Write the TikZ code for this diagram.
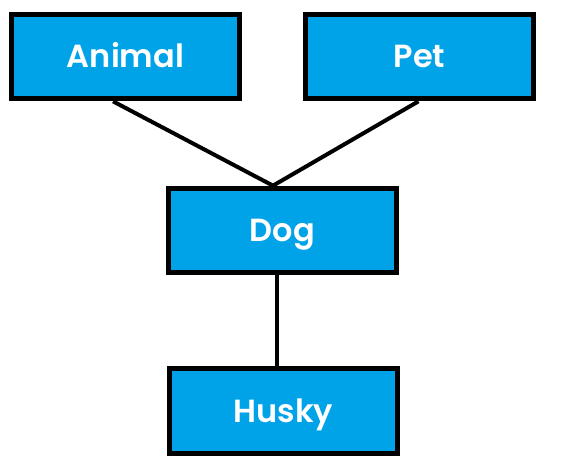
\documentclass[tikz,border=0pt]{standalone}
\usepackage{fontspec}
\setmainfont{Poppins}[BoldFont={* SemiBold}]
\usepackage{tikz}
\usetikzlibrary{positioning}
\usetikzlibrary{backgrounds}
\usetikzlibrary{calc}
\definecolor{boxblue}{HTML}{00A2E8}

\begin{document}
\begin{tikzpicture}[
            x = 0.75pt, y = -0.75pt, % one unit = one pixel
            link/.style = {line width = 3pt} % connector style
        ]

        \tikzstyle{every node}=[
            draw = black,
            line width = 3.75pt,
            fill = boxblue,
            text = white,
            font = \fontsize{24}{28}\selectfont\bfseries,
            text height = 20pt,
            text depth = 3.2pt,
            minimum width = 171pt,
            minimum height = 63.5pt
        ]

        \useasboundingbox (0,0) rectangle (576,470);

	% top level
        \node (Animal) at (125.5,56.5) {Animal};
        \node (Pet) [right=45.75pt of Animal] {Pet};

        % middle and bottom
        \node (Dog) at (282.5,230.5) {Dog};
        \node (Husky) [below=68.25pt of Dog, xshift=0.75pt] {Husky};

          \begin{scope}[on background layer]
          \coordinate (top) at ($(Dog.north)+(-9.5,0)$);
          \draw[link] ($(Animal.south)+(-12.5,0)$) -- (top);
          \draw[link] ($(Pet.south)+(-1,0)$) -- (top);
          \draw[link] ($(Dog.south)+(-5.5,0)$) -- ($(Husky.north)+(-6.5,0)$);
          \end{scope}

  \end{tikzpicture}
\end{document}
